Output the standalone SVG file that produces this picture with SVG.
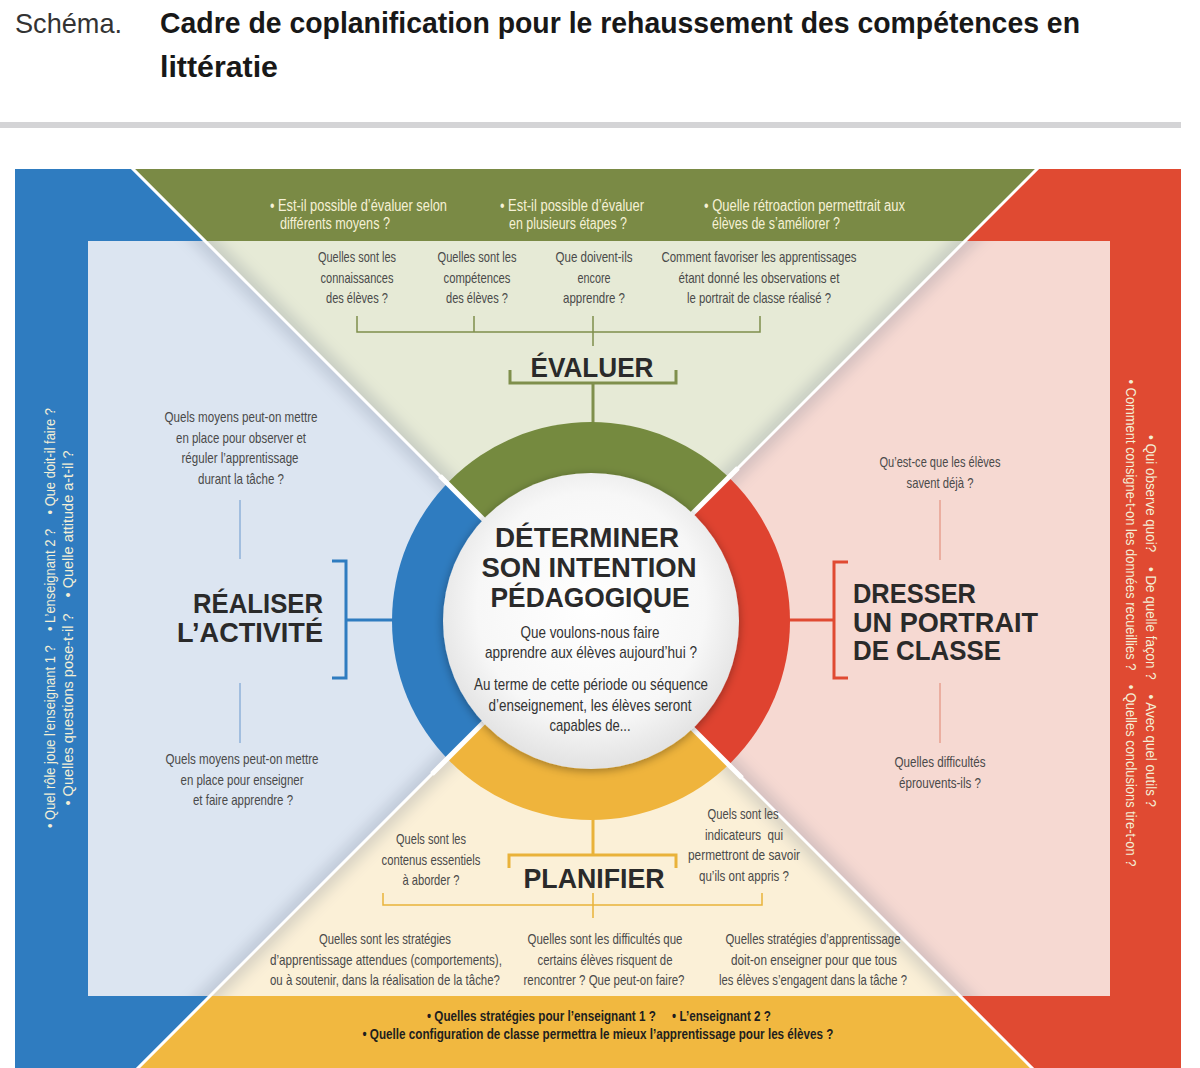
<svg xmlns="http://www.w3.org/2000/svg" width="1200" height="1068" viewBox="0 0 1200 1068">
<defs>
<style>
text{font-family:"Liberation Sans",Arial,sans-serif}
.ttl{font-size:30px;font-weight:bold;fill:#181818}
.q{font-size:15px;fill:#4a4a4a;text-anchor:middle}
.c{font-size:17px;fill:#333;text-anchor:middle}
.bt{font-size:16px;fill:#f6f1d6}
.vt{font-size:15px;fill:#f3efd6;text-anchor:middle}
.yb{font-size:15px;font-weight:bold;fill:#1e1e1e;text-anchor:middle}
.h{font-size:28px;font-weight:bold;fill:#2a2a2a}
.thin{fill:none;stroke-width:1.5}
.thick{fill:none;stroke-width:3}
</style>
<clipPath id="frame"><rect x="15" y="169" width="1166" height="900"/></clipPath>
<clipPath id="inner"><rect x="88" y="241" width="1022" height="755"/></clipPath>
<clipPath id="qt"><polygon points="585,621 -115,-79 1285,-79"/></clipPath>
<clipPath id="ql"><polygon points="585,621 -115,-79 -115,1321"/></clipPath>
<clipPath id="qr"><polygon points="585,621 1285,-79 1285,1321"/></clipPath>
<clipPath id="qb"><polygon points="585,621 -115,1321 1285,1321"/></clipPath>
<filter id="blur" x="-20%" y="-20%" width="140%" height="140%"><feGaussianBlur stdDeviation="8"/></filter>
<filter id="sh" x="-20%" y="-20%" width="140%" height="140%"><feDropShadow dx="0" dy="2" stdDeviation="5" flood-color="#000" flood-opacity="0.35"/></filter>
<radialGradient id="wg" cx="50%" cy="45%" r="55%"><stop offset="0" stop-color="#ffffff"/><stop offset="0.7" stop-color="#f7f7f7"/><stop offset="1" stop-color="#e2e2e2"/></radialGradient>
</defs>
<rect width="1200" height="1068" fill="#ffffff"/>

<g id="title">
<text x="15" y="33" font-size="28" fill="#333" textLength="107" lengthAdjust="spacingAndGlyphs">Schéma.</text>
<text class="ttl" x="160" y="33" textLength="920" lengthAdjust="spacingAndGlyphs">Cadre de coplanification pour le rehaussement des compétences en</text>
<text class="ttl" x="160" y="77" textLength="118" lengthAdjust="spacingAndGlyphs">littératie</text>
<rect x="0" y="122" width="1181" height="6" fill="#d4d4d6"/>
</g>

<g id="background">
<g clip-path="url(#frame)">
<polygon points="585,621 -115,-79 1285,-79" fill="#7a8a45"/>
<polygon points="585,621 -115,-79 -115,1321" fill="#2f7cc0"/>
<polygon points="585,621 1285,-79 1285,1321" fill="#e04a32"/>
<polygon points="585,621 -115,1321 1285,1321" fill="#f1b840"/>
</g>
<g clip-path="url(#inner)">
<polygon points="585,621 -115,-79 1285,-79" fill="#e6ead6"/>
<polygon points="585,621 -115,-79 -115,1321" fill="#dce5f1"/>
<polygon points="585,621 1285,-79 1285,1321" fill="#f6d9d2"/>
<polygon points="585,621 -115,1321 1285,1321" fill="#fbf0d7"/>
<g filter="url(#blur)" opacity="0.28" stroke="#56627a" stroke-width="14">
<line x1="-115" y1="-79" x2="1285" y2="1321"/>
<line x1="1285" y1="-79" x2="-115" y2="1321"/>
</g>
</g>
<g clip-path="url(#frame)" stroke="#ffffff" stroke-width="3">
<line x1="-115" y1="-79" x2="1285" y2="1321"/>
<line x1="1285" y1="-79" x2="-115" y2="1321"/>
</g>
</g>

<g id="connectors">
<g stroke="#7f8f4c">
<path class="thin" d="M357,316 V332 H760 V316 M474,316 V332 M593,316 V346"/>
<path class="thick" d="M510,370 V383 H676 V370 M593,383 V424"/>
</g>
<g stroke="#e9b23a">
<path class="thick" d="M593,818 V855 M509,868 V855 H676 V868"/>
<path class="thin" d="M383,893 V905 H762 V893 M593,893 V918"/>
</g>
<g stroke="#2f7cc0">
<path class="thick" d="M332,561 H346 V678 H332 M346,620 H394"/>
<path class="thin" stroke="#8fb1d9" d="M240,500 V559 M240,683 V743"/>
</g>
<g stroke="#e04a32">
<path class="thick" d="M848,562 H834 V678 H848 M834,620 H788"/>
<path class="thin" stroke="#e8a090" d="M940,500 V560 M940,683 V743"/>
</g>
</g>

<g id="center-node">
<g id="ring">
<circle cx="591" cy="621" r="199" fill="#758a3f" clip-path="url(#qt)"/>
<circle cx="591" cy="621" r="199" fill="#2f7cc0" clip-path="url(#ql)"/>
<circle cx="591" cy="621" r="199" fill="#df4330" clip-path="url(#qr)"/>
<circle cx="591" cy="621" r="199" fill="#efb43c" clip-path="url(#qb)"/>
<g stroke="#ffffff" stroke-width="5">
<line x1="440" y1="476" x2="742" y2="778"/>
<line x1="738" y1="468" x2="432" y2="774"/>
</g>
</g>
<circle cx="591" cy="621" r="148" fill="url(#wg)" filter="url(#sh)"/>
<text class="h" x="587" y="547" text-anchor="middle" textLength="184" lengthAdjust="spacingAndGlyphs">DÉTERMINER</text>
<text class="h" x="589" y="577" text-anchor="middle" textLength="215" lengthAdjust="spacingAndGlyphs">SON INTENTION</text>
<text class="h" x="590" y="607" text-anchor="middle" textLength="199" lengthAdjust="spacingAndGlyphs">PÉDAGOGIQUE</text>
<text class="c" x="590" y="638" textLength="139" lengthAdjust="spacingAndGlyphs">Que voulons-nous faire</text>
<text class="c" x="591" y="658" textLength="212" lengthAdjust="spacingAndGlyphs">apprendre aux élèves aujourd’hui ?</text>
<text class="c" x="591" y="690" textLength="234" lengthAdjust="spacingAndGlyphs">Au terme de cette période ou séquence</text>
<text class="c" x="590" y="711" textLength="203" lengthAdjust="spacingAndGlyphs">d’enseignement, les élèves seront</text>
<text class="c" x="590" y="731" textLength="81" lengthAdjust="spacingAndGlyphs">capables de...</text>
</g>

<g id="evaluer">
<text class="bt" x="270" y="211" textLength="177" lengthAdjust="spacingAndGlyphs">• Est-il possible d’évaluer selon</text>
<text class="bt" x="280" y="229" textLength="110" lengthAdjust="spacingAndGlyphs">différents moyens ?</text>
<text class="bt" x="500" y="211" textLength="144" lengthAdjust="spacingAndGlyphs">• Est-il possible d’évaluer</text>
<text class="bt" x="509" y="229" textLength="118" lengthAdjust="spacingAndGlyphs">en plusieurs étapes ?</text>
<text class="bt" x="704" y="211" textLength="201" lengthAdjust="spacingAndGlyphs">• Quelle rétroaction permettrait aux</text>
<text class="bt" x="712" y="229" textLength="128" lengthAdjust="spacingAndGlyphs">élèves de s’améliorer ?</text>
<text class="q" x="357" y="262" textLength="78" lengthAdjust="spacingAndGlyphs">Quelles sont les</text>
<text class="q" x="357" y="283" textLength="73" lengthAdjust="spacingAndGlyphs">connaissances</text>
<text class="q" x="357" y="303" textLength="62" lengthAdjust="spacingAndGlyphs">des élèves ?</text>
<text class="q" x="477" y="262" textLength="79" lengthAdjust="spacingAndGlyphs">Quelles sont les</text>
<text class="q" x="477" y="283" textLength="67" lengthAdjust="spacingAndGlyphs">compétences</text>
<text class="q" x="477" y="303" textLength="62" lengthAdjust="spacingAndGlyphs">des élèves ?</text>
<text class="q" x="594" y="262" textLength="77" lengthAdjust="spacingAndGlyphs">Que doivent-ils</text>
<text class="q" x="594" y="283" textLength="33" lengthAdjust="spacingAndGlyphs">encore</text>
<text class="q" x="594" y="303" textLength="62" lengthAdjust="spacingAndGlyphs">apprendre ?</text>
<text class="q" x="759" y="262" textLength="195" lengthAdjust="spacingAndGlyphs">Comment favoriser les apprentissages</text>
<text class="q" x="759" y="283" textLength="161" lengthAdjust="spacingAndGlyphs">étant donné les observations et</text>
<text class="q" x="759" y="303" textLength="144" lengthAdjust="spacingAndGlyphs">le portrait de classe réalisé ?</text>
<text class="h" x="592" y="377" text-anchor="middle" textLength="123" lengthAdjust="spacingAndGlyphs">ÉVALUER</text>
</g>

<g id="realiser">
<text class="vt" transform="translate(55,618) rotate(-90)" textLength="420" lengthAdjust="spacingAndGlyphs">• Quel rôle joue l’enseignant 1 ?&#160;&#160;&#160; • L’enseignant 2 ?&#160;&#160;&#160; • Que doit-il faire ?</text>
<text class="vt" transform="translate(73,628) rotate(-90)" textLength="355" lengthAdjust="spacingAndGlyphs">• Quelles questions pose-t-il ?&#160;&#160;&#160; • Quelle attitude a-t-il ?</text>
<text class="q" x="241" y="422" textLength="153" lengthAdjust="spacingAndGlyphs">Quels moyens peut-on mettre</text>
<text class="q" x="241" y="443" textLength="130" lengthAdjust="spacingAndGlyphs">en place pour observer et</text>
<text class="q" x="240" y="463" textLength="117" lengthAdjust="spacingAndGlyphs">réguler l’apprentissage</text>
<text class="q" x="241" y="484" textLength="86" lengthAdjust="spacingAndGlyphs">durant la tâche ?</text>
<text class="h" x="323" y="613" text-anchor="end" textLength="130" lengthAdjust="spacingAndGlyphs">RÉALISER</text>
<text class="h" x="323" y="642" text-anchor="end" textLength="146" lengthAdjust="spacingAndGlyphs">L’ACTIVITÉ</text>
<text class="q" x="242" y="764" textLength="153" lengthAdjust="spacingAndGlyphs">Quels moyens peut-on mettre</text>
<text class="q" x="242" y="785" textLength="123" lengthAdjust="spacingAndGlyphs">en place pour enseigner</text>
<text class="q" x="243" y="805" textLength="100" lengthAdjust="spacingAndGlyphs">et faire apprendre ?</text>
</g>

<g id="dresser">
<text class="vt" transform="translate(1146,621) rotate(90)" textLength="372" lengthAdjust="spacingAndGlyphs">• Qui observe quoi?&#160;&#160;&#160; • De quelle façon ?&#160;&#160;&#160; • Avec quel outils ?</text>
<text class="vt" transform="translate(1126,623) rotate(90)" textLength="487" lengthAdjust="spacingAndGlyphs">• Comment consigne-t-on les données recueillies ?&#160;&#160;&#160; • Quelles conclusions tire-t-on ?</text>
<text class="q" x="940" y="467" textLength="121" lengthAdjust="spacingAndGlyphs">Qu’est-ce que les élèves</text>
<text class="q" x="940" y="488" textLength="67" lengthAdjust="spacingAndGlyphs">savent déjà ?</text>
<text class="h" x="853" y="603" textLength="123" lengthAdjust="spacingAndGlyphs">DRESSER</text>
<text class="h" x="853" y="632" textLength="185" lengthAdjust="spacingAndGlyphs">UN PORTRAIT</text>
<text class="h" x="853" y="660" textLength="148" lengthAdjust="spacingAndGlyphs">DE CLASSE</text>
<text class="q" x="940" y="767" textLength="91" lengthAdjust="spacingAndGlyphs">Quelles difficultés</text>
<text class="q" x="940" y="788" textLength="82" lengthAdjust="spacingAndGlyphs">éprouvents-ils ?</text>
</g>

<g id="planifier">
<text class="q" x="431" y="844" textLength="70" lengthAdjust="spacingAndGlyphs">Quels sont les</text>
<text class="q" x="431" y="865" textLength="99" lengthAdjust="spacingAndGlyphs">contenus essentiels</text>
<text class="q" x="431" y="885" textLength="57" lengthAdjust="spacingAndGlyphs">à aborder ?</text>
<text class="q" x="743" y="819" textLength="71" lengthAdjust="spacingAndGlyphs">Quels sont les</text>
<text class="q" x="744" y="840" textLength="78" lengthAdjust="spacingAndGlyphs">indicateurs&#160; qui</text>
<text class="q" x="744" y="860" textLength="112" lengthAdjust="spacingAndGlyphs">permettront de savoir</text>
<text class="q" x="744" y="881" textLength="90" lengthAdjust="spacingAndGlyphs">qu’ils ont appris ?</text>
<text class="h" x="594" y="888" text-anchor="middle" textLength="141" lengthAdjust="spacingAndGlyphs">PLANIFIER</text>
<text class="q" x="385" y="944" textLength="132" lengthAdjust="spacingAndGlyphs">Quelles sont les stratégies</text>
<text class="q" x="386" y="965" textLength="232" lengthAdjust="spacingAndGlyphs">d’apprentissage attendues (comportements),</text>
<text class="q" x="385" y="985" textLength="230" lengthAdjust="spacingAndGlyphs">ou à soutenir, dans la réalisation de la tâche?</text>
<text class="q" x="605" y="944" textLength="155" lengthAdjust="spacingAndGlyphs">Quelles sont les difficultés que</text>
<text class="q" x="605" y="965" textLength="135" lengthAdjust="spacingAndGlyphs">certains élèves risquent de</text>
<text class="q" x="604" y="985" textLength="161" lengthAdjust="spacingAndGlyphs">rencontrer ? Que peut-on faire?</text>
<text class="q" x="813" y="944" textLength="175" lengthAdjust="spacingAndGlyphs">Quelles stratégies d’apprentissage</text>
<text class="q" x="814" y="965" textLength="166" lengthAdjust="spacingAndGlyphs">doit-on enseigner pour que tous</text>
<text class="q" x="813" y="985" textLength="188" lengthAdjust="spacingAndGlyphs">les élèves s’engagent dans la tâche ?</text>
<text class="yb" x="599" y="1021" textLength="344" lengthAdjust="spacingAndGlyphs">• Quelles stratégies pour l’enseignant 1 ?&#160;&#160;&#160;&#160; • L’enseignant 2 ?</text>
<text class="yb" x="598" y="1039" textLength="471" lengthAdjust="spacingAndGlyphs">• Quelle configuration de classe permettra le mieux l’apprentissage pour les élèves ?</text>
</g>
</svg>
